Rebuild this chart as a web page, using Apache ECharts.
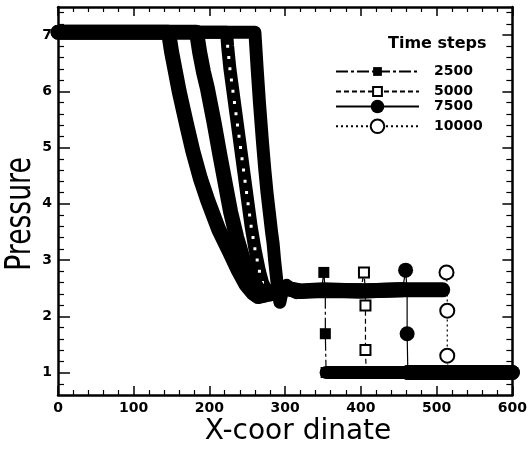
<!DOCTYPE html>
<html><head><meta charset="utf-8">
<script src="https://cdn.jsdelivr.net/npm/echarts@6/dist/echarts.min.js"></script>
<style>html,body{margin:0;padding:0;background:#fff}#c{width:530px;height:452px}</style>
</head><body><div id="c"></div>
<script>
// ---- data ----
const timeSteps = ['2500', '5000', '7500', '10000'];
const yMajorTicks = [1, 2, 3, 4, 5, 6, 7];
const yMinorTicks = [0.8, 1.2, 1.4, 1.6, 1.8, 2.2, 2.4, 2.6, 2.8, 3.2, 3.4, 3.6, 3.8, 4.2, 4.4, 4.6, 4.8,
  5.2, 5.4, 5.6, 5.8, 6.2, 6.4, 6.6, 6.8, 7.2, 7.4];

// profile left of the shock (x, pressure)
const band2500 = [[0,7.05],[260,7.05],[263,6.4],[266,5.8],[270,5.1],[273,4.62],[276,4.2],[279,3.85],[282,3.5],
  [284,3.3],[286,3.0],[288,2.75],[290,2.5],[293,2.25],[297,2.5],[302,2.55],[310,2.47],[320,2.43],[335,2.45],[348,2.47]];
const band5000 = [[0,7.05],[222.6,7.05],[224,6.8],[225.5,6.6],[227,6.4],[229,6.2],[231,6.0],[233,5.8],[235,5.6],
  [237,5.4],[239,5.2],[241,5.0],[243,4.8],[245,4.6],[247,4.4],[249,4.2],[251,4.0],[253,3.8],[255,3.6],[257.5,3.4],
  [260,3.2],[263,3.0],[266,2.8],[270,2.6],[275,2.45],[281,2.38],[290,2.5],[300,2.52],[315,2.42],[340,2.47],[370,2.47],[400,2.47]];
const band7500 = [[0,7.05],[183,7.05],[187,6.7],[192,6.35],[197,6.07],[206,5.45],[214,4.85],[221,4.35],[228,3.85],
  [236,3.4],[246,2.95],[256,2.65],[265,2.47],[273,2.38],[285,2.45],[300,2.5],[320,2.45],[350,2.47],[400,2.45],[455,2.47]];
const band10000 = [[0,7.05],[146,7.05],[150,6.7],[155,6.35],[160,6.0],[170,5.4],[178,4.94],[188,4.45],[198,4.05],
  [212,3.55],[226,3.16],[238,2.82],[248,2.57],[257,2.42],[264,2.35],[280,2.4],[300,2.5],[320,2.44],[350,2.46],
  [400,2.45],[450,2.47],[508,2.47]];

// profile right of the shock
const foot2500 = [[354,1.0],[600,1.0]];
const foot5000 = [[408,1.0],[600,1.0]];
const foot7500 = [[462,1.0],[600,1.0]];
const foot10000 = [[515,1.0],[600,1.0]];

// points across the shock (drawn with markers)
const jump2500 = [[348,2.47],[351,2.78],[353,2.42],[353,1.69],[354,1.0]];
const jump5000 = [[400,2.47],[404,2.78],[406,2.45],[406,2.19],[406,1.40],[407,1.0]];
const jump7500 = [[455,2.47],[459,2.82],[461,2.45],[461,1.69],[462,1.0]];
const jump10000 = [[508,2.47],[513,2.78],[514,2.45],[514,2.10],[514,1.30],[515,1.0]];

// ---- chart ----
const FONT = '"DejaVu Sans", sans-serif';
const bands = [band2500, band5000, band7500, band10000];
const feet = [foot2500, foot5000, foot7500, foot10000];
const jumps = [jump2500, jump5000, jump7500, jump10000];
const bandWidths = [13, 13, 15, 15];
const symbols = ['rect', 'emptyRect', 'circle', 'emptyCircle'];
const symbolSizes = [11, 10, 15, 14];
const dashes = [[12,3,3,3], [5,3], 'solid', [2,3]];
const legendH = [11, 11, 17, 17];
const legendCenters = [70, 90, 108, 127];

const series = [];
timeSteps.forEach((name, i) => {
  const dotted = i === 1;
  series.push({
    type: 'line', name: name + ' band',
    data: bands[i].map(d => (dotted && d[1] < 6.9 && d[1] > 2.55 && d[0] < 285)
      ? { value: d, symbol: 'emptyRect', symbolSize: 5 }
      : { value: d, symbol: 'none' }),
    symbol: 'emptyRect', showSymbol: true,
    lineStyle: { color: '#000', width: bandWidths[i], cap: 'round', join: 'round' },
    itemStyle: { color: '#000' },
    clip: false, silent: true, z: 2 + i, animation: false
  });
  series.push({
    type: 'line', name: name + ' foot', data: feet[i], symbol: 'none',
    lineStyle: { color: '#000', width: bandWidths[i], cap: 'round', join: 'round' },
    clip: false, silent: true, z: 2 + i, animation: false
  });
});
timeSteps.forEach((name, i) => {
  const empty = symbols[i].indexOf('empty') === 0;
  const pts = jumps[i];
  series.push({
    type: 'line', name: name,
    // markers inside the thick bands (plateau side, and p = 1 side for open symbols) stay hidden
    data: pts.map((d, k) => {
      const hidden = (k === 0) || (d[1] > 2.3 && d[1] < 2.6) || (empty && k === pts.length - 1);
      return hidden ? { value: d, symbol: 'none' } : { value: d };
    }),
    symbol: symbols[i], symbolSize: symbolSizes[i],
    lineStyle: { color: '#000', width: 1.2, type: dashes[i] },
    itemStyle: { color: '#000' },
    clip: false, z: 10, animation: false
  });
});

const axisLineStyle = { show: true, onZero: false, lineStyle: { color: '#000', width: 2.5 } };
const tickLine = { color: '#000', width: 1.5 };
const option = {
  backgroundColor: '#fff',
  animation: false,
  grid: { left: 58, right: 16, top: 7, bottom: 57, containLabel: false },
  xAxis: [
    { type: 'value', min: 0, max: 600, interval: 100, position: 'bottom',
      axisLine: axisLineStyle,
      axisTick: { inside: true, length: 9, lineStyle: tickLine },
      minorTick: { show: true, splitNumber: 5, length: 5, lineStyle: { color: '#000', width: 1.2 } },
      axisLabel: { fontFamily: FONT, fontWeight: 'bold', fontSize: 14, color: '#000', margin: 6, showMinLabel: true, showMaxLabel: true },
      splitLine: { show: false } },
    { type: 'value', min: 0, max: 600, interval: 100, position: 'top',
      axisLine: axisLineStyle,
      axisTick: { inside: true, length: 9, lineStyle: tickLine },
      minorTick: { show: true, splitNumber: 5, length: 5, lineStyle: { color: '#000', width: 1.2 } },
      axisLabel: { show: false }, splitLine: { show: false } }
  ],
  yAxis: [
    { type: 'value', min: 0.6, max: 7.5, position: 'left',
      axisLine: axisLineStyle,
      axisTick: { inside: true, length: 12, customValues: yMajorTicks, lineStyle: tickLine },
      axisLabel: { customValues: yMajorTicks, fontFamily: FONT, fontWeight: 'bold', fontSize: 14, color: '#000', margin: 6 },
      splitLine: { show: false } },
    { type: 'value', min: 0.6, max: 7.5, position: 'left',
      axisLine: { show: false, onZero: false },
      axisTick: { inside: true, length: 6, customValues: yMinorTicks, lineStyle: { color: '#000', width: 1.2 } },
      axisLabel: { show: false }, splitLine: { show: false } },
    { type: 'value', min: 0.6, max: 7.5, position: 'right',
      axisLine: axisLineStyle,
      axisTick: { inside: true, length: 10, customValues: yMajorTicks, lineStyle: tickLine },
      axisLabel: { show: false }, splitLine: { show: false } },
    { type: 'value', min: 0.6, max: 7.5, position: 'right',
      axisLine: { show: false, onZero: false },
      axisTick: { inside: true, length: 6, customValues: yMinorTicks, lineStyle: { color: '#000', width: 1.2 } },
      axisLabel: { show: false }, splitLine: { show: false } }
  ],
  legend: timeSteps.map((n, i) => ({
    data: [n], orient: 'vertical', left: 335, top: legendCenters[i] - legendH[i] / 2,
    itemWidth: 83, itemHeight: legendH[i], padding: 0, selectedMode: false,
    textStyle: { fontFamily: FONT, fontWeight: 'bold', fontSize: 14, color: '#000', padding: [0, 0, 0, 10] }
  })),
  graphic: [
    { type: 'text', x: 388, y: 44, z: 20,
      style: { text: 'Time steps', fontFamily: FONT, fontWeight: 'bold', fontSize: 16, fill: '#000', align: 'left', verticalAlign: 'middle' } },
    { type: 'text', x: 298, y: 432, z: 20,
      style: { text: 'X-coor dinate', fontFamily: FONT, fontSize: 28, fill: '#000', align: 'center', verticalAlign: 'middle' } },
    { type: 'text', x: 21, y: 214, rotation: Math.PI / 2, scaleX: 0.95, scaleY: 1.25, z: 20,
      style: { text: 'Pressure', fontFamily: FONT, fontSize: 28, fill: '#000', align: 'center', verticalAlign: 'middle' } }
  ],
  series: series
};
const chart = echarts.init(document.getElementById('c'));
chart.setOption(option);
</script></body></html>
